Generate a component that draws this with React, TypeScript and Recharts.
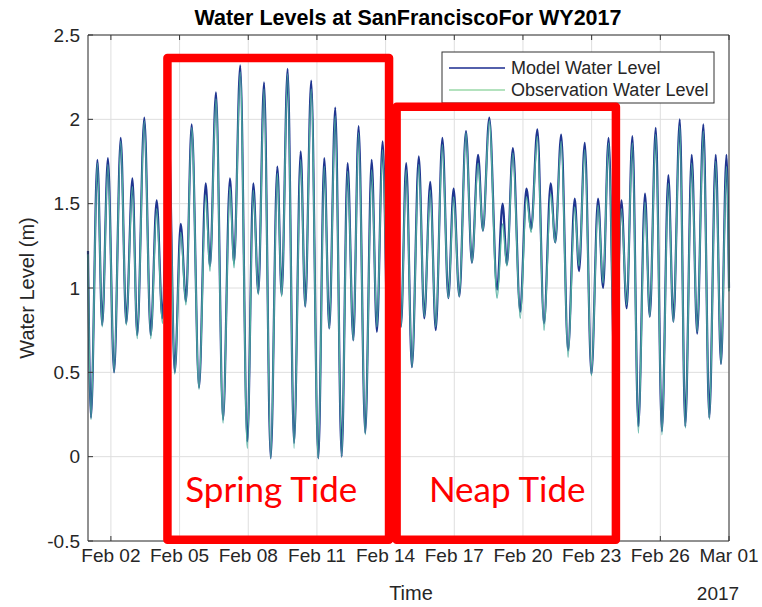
import React from 'react';
import { LineChart, Line, XAxis, YAxis, CartesianGrid, ReferenceArea, Customized } from 'recharts';

// time in days since 2017-02-01 00:00 (tide highs / lows)
const days = [
  0.00, 0.13, 0.41, 0.62, 0.87, 1.14, 1.43, 1.67, 1.94, 2.15,
  2.46, 2.74, 3.00, 3.25, 3.52, 3.79, 4.05, 4.28, 4.53, 4.85,
  5.14, 5.33, 5.59, 5.90, 6.20, 6.38, 6.65, 6.96, 7.22, 7.44,
  7.69, 7.98, 8.27, 8.46, 8.72, 9.00, 9.29, 9.49, 9.75, 10.06,
  10.32, 10.54, 10.80, 11.08, 11.34, 11.59, 11.82, 12.11, 12.39, 12.62,
  12.87, 13.15, 13.39, 13.67, 13.90, 14.15, 14.45, 14.69, 14.95, 15.19,
  15.48, 15.74, 15.97, 16.22, 16.51, 16.77, 17.04, 17.25, 17.53, 17.87,
  18.11, 18.30, 18.56, 18.88, 19.15, 19.36, 19.63, 19.92, 20.21, 20.41,
  20.67, 20.97, 21.26, 21.45, 21.70, 21.99, 22.28, 22.50, 22.74, 23.02,
  23.30, 23.53, 23.78, 24.04, 24.33, 24.54, 24.80, 25.07, 25.35, 25.57,
  25.85, 26.09, 26.37, 26.61, 26.88, 27.14, 27.42, 27.65, 27.89, 28.00,
];

const modelLevel = [
  1.22, 0.23, 1.76, 0.78, 1.77, 0.50, 1.89, 0.79, 1.65, 0.72,
  2.01, 0.72, 1.52, 0.82, 1.95, 0.50, 1.38, 0.92, 1.97, 0.41,
  1.62, 1.13, 2.16, 0.22, 1.65, 1.15, 2.32, 0.09, 1.62, 0.97,
  2.22, -0.01, 1.72, 0.96, 2.30, 0.08, 1.81, 0.89, 2.23, -0.01,
  1.77, 0.76, 2.07, 0.00, 1.74, 0.69, 1.96, 0.14, 1.76, 0.74,
  1.87, 0.35, 1.70, 0.77, 1.74, 0.53, 1.78, 0.82, 1.63, 0.75,
  1.89, 0.94, 1.59, 0.95, 1.93, 1.15, 1.79, 1.34, 2.01, 0.99,
  1.50, 1.14, 1.83, 0.86, 1.59, 1.35, 1.94, 0.79, 1.62, 1.27,
  1.91, 0.63, 1.53, 1.10, 1.86, 0.49, 1.53, 1.00, 1.89, 0.40,
  1.52, 0.88, 1.90, 0.18, 1.56, 0.83, 1.95, 0.15, 1.67, 0.80,
  2.00, 0.18, 1.79, 0.73, 1.97, 0.23, 1.79, 0.55, 1.79, 1.00,
];

const obsLevel = [
  1.20, 0.22, 1.74, 0.77, 1.73, 0.50, 1.87, 0.78, 1.60, 0.70,
  1.99, 0.70, 1.47, 0.79, 1.93, 0.49, 1.33, 0.90, 1.95, 0.40,
  1.55, 1.10, 2.12, 0.20, 1.60, 1.12, 2.28, 0.05, 1.58, 0.96,
  2.18, -0.01, 1.68, 0.95, 2.27, 0.05, 1.76, 0.89, 2.18, -0.01,
  1.72, 0.76, 2.02, 0.00, 1.69, 0.69, 1.92, 0.13, 1.70, 0.77,
  1.82, 0.34, 1.66, 0.77, 1.70, 0.53, 1.73, 0.83, 1.58, 0.77,
  1.85, 0.94, 1.54, 0.95, 1.92, 1.15, 1.74, 1.34, 1.99, 0.94,
  1.38, 1.13, 1.80, 0.82, 1.54, 1.33, 1.90, 0.75, 1.56, 1.27,
  1.87, 0.59, 1.48, 1.13, 1.82, 0.48, 1.49, 1.03, 1.86, 0.40,
  1.47, 0.90, 1.86, 0.14, 1.51, 0.83, 1.91, 0.13, 1.62, 0.80,
  1.96, 0.17, 1.74, 0.74, 1.93, 0.22, 1.75, 0.55, 1.72, 0.98,
];

const xTickDays = [1, 4, 7, 10, 13, 16, 19, 22, 25, 28];
const xTickLabels = ['Feb 02', 'Feb 05', 'Feb 08', 'Feb 11', 'Feb 14', 'Feb 17', 'Feb 20', 'Feb 23', 'Feb 26', 'Mar 01'];
const yTicks = [-0.5, 0, 0.5, 1, 1.5, 2, 2.5];
const yTickLabels = ['-0.5', '0', '0.5', '1', '1.5', '2', '2.5'];
const seriesNames = ['Model Water Level', 'Observation Water Level'];

// annotation boxes in data units: [dayStart, dayEnd, levelLow, levelHigh]
const springBox = [3.47, 13.15, -0.493, 2.363];
const neapBox = [13.48, 23.06, -0.493, 2.075];
const boxLabels = ['Spring Tide', 'Neap Tide'];

const rows = days.map((d, i) => ({ day: d, model: modelLevel[i], obs: obsLevel[i] }));

const FONT = "'Liberation Sans', Arial, Helvetica, sans-serif";
const AXIS = '#333333';
const TXT = '#262626';
const MODEL_COLOR = '#1f3590';
const OBS_COLOR = '#4fae9e';
const OBS_LEGEND = '#9ad8a8';

const fmtX = (v: number) => {
  const i = xTickDays.indexOf(v);
  return i >= 0 ? xTickLabels[i] : '';
};
const fmtY = (v: number) => {
  const i = yTicks.indexOf(v);
  return i >= 0 ? yTickLabels[i] : String(v);
};

const makeBoxLabel = (text: string, dx: number) => (props: any) => {
  const vb = props.viewBox || {};
  return (
    <text
      x={vb.x + vb.width / 2 + dx}
      y={vb.y + vb.height - 38}
      textAnchor="middle"
      fill="#ff0000"
      fontSize={35}
      fontFamily="Lato, 'Noto Sans', sans-serif"
    >
      {text}
    </text>
  );
};

const Decorations = () => (
  <g>
    <text x={408} y={25} textAnchor="middle" fontWeight="bold" fontSize={21.5} fontFamily={FONT} fill="#000">
      Water Levels at SanFranciscoFor WY2017
    </text>
    <text x={411} y={600} textAnchor="middle" fontSize={20} fontFamily={FONT} fill={TXT}>Time</text>
    <text x={718} y={600} textAnchor="middle" fontSize={19} fontFamily={FONT} fill={TXT}>2017</text>
    <text transform="translate(34,288) rotate(-90)" textAnchor="middle" fontSize={20} fontFamily={FONT} fill={TXT}>
      Water Level (m)
    </text>
    <rect x={442} y={52} width={272} height={51} fill="#fff" stroke={AXIS} strokeWidth={1} />
    <line x1={449} x2={505} y1={68} y2={68} stroke="#1a2b8f" strokeWidth={1.5} />
    <text x={511} y={68} dominantBaseline="central" fontSize={18} fontFamily={FONT} fill={TXT}>{seriesNames[0]}</text>
    <line x1={449} x2={505} y1={90} y2={90} stroke={OBS_LEGEND} strokeWidth={1.5} />
    <text x={511} y={90} dominantBaseline="central" fontSize={18} fontFamily={FONT} fill={TXT}>{seriesNames[1]}</text>
  </g>
);

export default function App() {
  return (
    <div style={{ position: 'absolute', left: 0, top: 0, background: '#fff' }}>
      <LineChart width={762} height={607} data={rows} margin={{ top: 30, right: 28, bottom: 0, left: 0 }}>
        <CartesianGrid xAxisId="b" yAxisId="l" stroke="#dedede" strokeWidth={1} />
        <XAxis
          xAxisId="b"
          dataKey="day"
          type="number"
          domain={[0, 28]}
          ticks={xTickDays}
          tickFormatter={fmtX}
          height={66}
          tickSize={-5}
          tickMargin={13}
          interval={0}
          stroke={AXIS}
          tick={{ fill: TXT, fontSize: 19, fontFamily: FONT }}
        />
        <XAxis
          xAxisId="t"
          orientation="top"
          dataKey="day"
          type="number"
          domain={[0, 28]}
          ticks={xTickDays}
          tickFormatter={() => ''}
          height={5}
          tickSize={-5}
          interval={0}
          stroke={AXIS}
        />
        <YAxis
          yAxisId="l"
          type="number"
          domain={[-0.5, 2.5]}
          ticks={yTicks}
          tickFormatter={fmtY}
          width={88}
          tickSize={-5}
          tickMargin={13}
          interval={0}
          stroke={AXIS}
          tick={{ fill: TXT, fontSize: 19, fontFamily: FONT }}
        />
        <YAxis
          yAxisId="r"
          orientation="right"
          type="number"
          domain={[-0.5, 2.5]}
          ticks={yTicks}
          tickFormatter={() => ''}
          width={5}
          tickSize={-5}
          interval={0}
          stroke={AXIS}
        />
        <Line
          xAxisId="b"
          yAxisId="l"
          type="monotone"
          dataKey="model"
          name={seriesNames[0]}
          stroke={MODEL_COLOR}
          strokeWidth={2.2}
          dot={false}
          isAnimationActive={false}
        />
        <Line
          xAxisId="b"
          yAxisId="l"
          type="monotone"
          dataKey="obs"
          name={seriesNames[1]}
          stroke={OBS_COLOR}
          strokeWidth={1.5}
          dot={false}
          isAnimationActive={false}
        />
        <ReferenceArea
          xAxisId="b"
          yAxisId="l"
          x1={springBox[0]}
          x2={springBox[1]}
          y1={springBox[2]}
          y2={springBox[3]}
          fill="none"
          fillOpacity={0}
          stroke="#ff0000"
          strokeWidth={8.5}
          strokeOpacity={1}
          strokeLinejoin="round"
          ifOverflow="visible"
          zIndex={1500}
          label={{ content: makeBoxLabel(boxLabels[0], -7) }}
        />
        <ReferenceArea
          xAxisId="b"
          yAxisId="l"
          x1={neapBox[0]}
          x2={neapBox[1]}
          y1={neapBox[2]}
          y2={neapBox[3]}
          fill="none"
          fillOpacity={0}
          stroke="#ff0000"
          strokeWidth={8.5}
          strokeOpacity={1}
          strokeLinejoin="round"
          ifOverflow="visible"
          zIndex={1500}
          label={{ content: makeBoxLabel(boxLabels[1], 1) }}
        />
        <Customized component={Decorations} />
      </LineChart>
    </div>
  );
}
